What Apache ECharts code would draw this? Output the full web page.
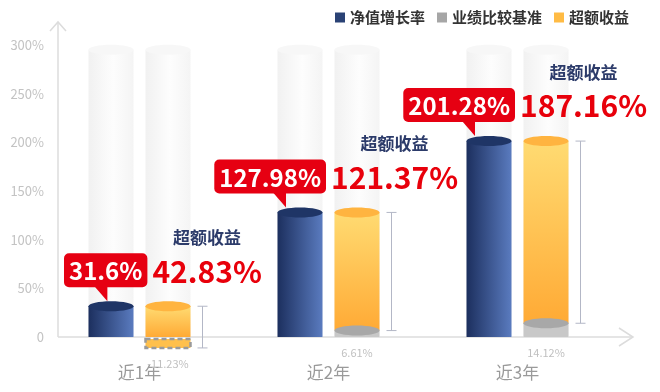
<!DOCTYPE html>
<html>
<head>
<meta charset="utf-8">
<script src="https://cdn.jsdelivr.net/npm/echarts@6/dist/echarts.min.js"></script>
<style>html,body{margin:0;padding:0;background:#fff;}#c{width:660px;height:392px;}</style>
</head>
<body>
<div id="c"></div>
<script>
// ---- data ----
const categories = ['近1年', '近2年', '近3年'];
const netGrowth = [31.6, 127.98, 201.28];
const benchmark = [-11.23, 6.61, 14.12];
const excess = [42.83, 121.37, 187.16];
const seriesNames = ['净值增长率', '业绩比较基准', '超额收益'];
const excessTitle = '超额收益';
const yMin = 0, yMax = 300, yStep = 50;
const ghostTop = 295;

// ---- style ----
const FONT = '"Noto Sans CJK SC", "Noto Sans", sans-serif';
const OFF = 28.5, HW = 22.5, RY = 5;
const measureCtx = document.createElement('canvas').getContext('2d');
function measure(t, size) { measureCtx.font = 'bold ' + size + 'px ' + FONT; return measureCtx.measureText(t).width; }
const G = echarts.graphic;

function calloutGeom(api, i, net) {
  const cx = api.coord([i, 0])[0];
  const yTop = api.coord([i, net])[1];
  const navX = cx - OFF;
  const text = net + '%';
  const boxW = measure(text, 24) + 10;
  const boxH = 34;
  let boxRight = navX + 26;
  let boxLeft = boxRight - boxW;
  if (boxLeft < 64) { boxLeft = 64; boxRight = boxLeft + boxW; }
  const boxBottom = yTop - 19;
  const boxTop = boxBottom - boxH;
  return { cx, yTop, navX, text, boxW, boxH, boxLeft, boxRight, boxBottom, boxTop };
}

function renderGhost(params, api) {
  const i = api.value(0);
  const p0 = api.coord([i, 0]);
  const yT = api.coord([i, api.value(1)])[1];
  const children = [];
  [-OFF, OFF].forEach(function (s) {
    const x = p0[0] + s;
    children.push({ type: 'rect', shape: { x: x - HW, y: yT, width: HW * 2, height: p0[1] - yT },
      style: { fill: new G.LinearGradient(0, 0, 1, 0, [
        { offset: 0, color: '#f1f1f1' }, { offset: 0.55, color: '#fdfdfd' }, { offset: 1, color: '#f4f4f4' }]) } });
    children.push({ type: 'ellipse', shape: { cx: x, cy: yT, rx: HW, ry: RY },
      style: { fill: '#f7f7f7' } });
  });
  return { type: 'group', children };
}

function renderNet(params, api) {
  const i = api.value(0);
  const net = api.value(1);
  const g = calloutGeom(api, i, net);
  const y0 = api.coord([i, 0])[1];
  const x = g.navX;
  const tipX = g.boxRight - 40;
  return { type: 'group', children: [
    { type: 'rect', shape: { x: x - HW, y: g.yTop, width: HW * 2, height: y0 - g.yTop },
      style: { fill: new G.LinearGradient(0, 0, 1, 0, [
        { offset: 0, color: '#1c2f5e' }, { offset: 1, color: '#5a7bbf' }]) } },
    { type: 'ellipse', shape: { cx: x, cy: g.yTop, rx: HW, ry: RY }, style: { fill: '#1f3566' } },
    { type: 'polygon', shape: { points: [[tipX - 13, g.boxBottom - 1], [tipX, g.boxBottom - 1], [tipX, g.yTop - 5]] },
      style: { fill: '#e60012' }, z2: 20 },
    { type: 'rect', shape: { x: g.boxLeft, y: g.boxTop, width: g.boxW, height: g.boxH, r: 5 },
      style: { fill: '#e60012' }, z2: 20 },
    { type: 'text', style: { text: g.text, x: g.boxLeft + g.boxW / 2, y: g.boxTop + g.boxH / 2 + 1,
      align: 'center', verticalAlign: 'middle', fill: '#fff', font: 'bold 24px ' + FONT }, z2: 21 }
  ] };
}

function renderExcess(params, api) {
  const i = api.value(0);
  const net = api.value(1);
  const b = api.value(2);
  const ex = api.value(3);
  const g = calloutGeom(api, i, net);
  const p0 = api.coord([i, 0]);
  const x = p0[0] + OFF;
  const yBase = api.coord([i, Math.max(b, 0)])[1];
  const yB = api.coord([i, b])[1];
  const yT = g.yTop;
  const bx = x + HW + 12;
  const redText = ex + '%';
  const redW = measure(redText, 30);
  const redLeft = g.boxRight + 5;
  const midY = g.boxTop + g.boxH / 2;
  return { type: 'group', children: [
    { type: 'rect', shape: { x: x - HW, y: yT, width: HW * 2, height: yBase - yT },
      style: { fill: new G.LinearGradient(0, 0, 0, 1, [
        { offset: 0, color: '#ffdb72' }, { offset: 1, color: '#ffaa35' }]) } },
    { type: 'ellipse', shape: { cx: x, cy: yT, rx: HW, ry: RY }, style: { fill: '#ffb440' } },
    { type: 'line', shape: { x1: bx, y1: yT, x2: bx, y2: yB }, style: { stroke: '#b3b7c6', lineWidth: 1 } },
    { type: 'line', shape: { x1: bx - 5, y1: yT, x2: bx + 5, y2: yT }, style: { stroke: '#b3b7c6', lineWidth: 1 } },
    { type: 'line', shape: { x1: bx - 5, y1: yB, x2: bx + 5, y2: yB }, style: { stroke: '#b3b7c6', lineWidth: 1 } },
    { type: 'text', style: { text: redText, x: redLeft, y: midY + 1, align: 'left', verticalAlign: 'middle',
      fill: '#e8000b', font: 'bold 30px ' + FONT }, z2: 21 },
    { type: 'text', style: { text: excessTitle, x: redLeft + redW / 2, y: midY - 33, align: 'center', verticalAlign: 'middle',
      fill: '#2c3b6a', font: 'bold 17px ' + FONT }, z2: 21 }
  ] };
}

function renderBench(params, api) {
  const i = api.value(0);
  const b = api.value(1);
  const p0 = api.coord([i, 0]);
  const x = p0[0] + OFF;
  const yB = api.coord([i, b])[1];
  const children = [];
  if (b >= 0) {
    children.push({ type: 'rect', shape: { x: x - HW, y: yB, width: HW * 2, height: p0[1] - yB }, style: { fill: '#c8c8c8' } });
    children.push({ type: 'ellipse', shape: { cx: x, cy: yB, rx: HW, ry: RY }, style: { fill: '#a8a8a8' } });
  } else {
    children.push({ type: 'rect', shape: { x: x - HW, y: p0[1] + 2, width: HW * 2, height: yB - p0[1] - 2 },
      style: { fill: '#ffc04c', stroke: '#9a9a9a', lineWidth: 2.5, lineDash: [5, 3] } });
  }
  children.push({ type: 'text', style: { text: b + '%', x: x, y: Math.max(p0[1], yB) + 16, align: 'center', verticalAlign: 'middle',
    fill: '#c0c0c0', font: '11px ' + FONT } });
  return { type: 'group', children };
}

const chart = echarts.init(document.getElementById('c'), null, { renderer: 'canvas' });
chart.setOption({
  animation: false,
  backgroundColor: '#fff',
  grid: { left: 45, right: 48, top: 45, bottom: 55 },
  legend: {
    data: seriesNames, top: 5, right: 26, icon: 'rect', itemWidth: 10, itemHeight: 10, itemGap: 12,
    textStyle: { fontSize: 15, fontWeight: 'bold', color: '#333', fontFamily: FONT }
  },
  xAxis: {
    type: 'category', data: categories,
    axisLine: { show: false }, axisTick: { show: false },
    axisLabel: { color: '#9a9a9a', fontSize: 17, margin: 27, fontFamily: FONT }
  },
  yAxis: {
    type: 'value', min: yMin, max: yMax, interval: yStep,
    axisLine: { show: false }, axisTick: { show: false }, splitLine: { show: false },
    axisLabel: { color: '#c3c3c3', fontSize: 13, margin: 1, fontFamily: FONT,
      formatter: function (v) { return v === 0 ? '0' : v + '%'; } }
  },
  graphic: [
    { type: 'line', shape: { x1: 58, y1: 337, x2: 58, y2: 22 }, style: { stroke: '#dcdcdc', lineWidth: 1.5 }, z: 1 },
    { type: 'polyline', shape: { points: [[50, 31], [58, 22], [66, 31]] }, style: { stroke: '#dcdcdc', lineWidth: 1.5, fill: null }, z: 1 },
    { type: 'line', shape: { x1: 58, y1: 337, x2: 633, y2: 337 }, style: { stroke: '#dcdcdc', lineWidth: 1.5 }, z: 1 },
    { type: 'polyline', shape: { points: [[619, 328], [633, 337], [619, 346]] }, style: { stroke: '#dcdcdc', lineWidth: 1.5, fill: null }, z: 1 }
  ],
  series: [
    { type: 'custom', name: 'ghost', renderItem: renderGhost, z: 2, silent: true,
      data: categories.map(function (c, i) { return [i, ghostTop]; }) },
    { type: 'custom', name: seriesNames[0], renderItem: renderNet, z: 5, itemStyle: { color: '#2a4275' },
      data: categories.map(function (c, i) { return [i, netGrowth[i]]; }) },
    { type: 'custom', name: seriesNames[2], renderItem: renderExcess, z: 4, itemStyle: { color: '#ffbb44' },
      data: categories.map(function (c, i) { return [i, netGrowth[i], benchmark[i], excess[i]]; }) },
    { type: 'custom', name: seriesNames[1], renderItem: renderBench, z: 4, itemStyle: { color: '#a6a6a6' },
      data: categories.map(function (c, i) { return [i, benchmark[i]]; }) }
  ]
});
</script>
</body>
</html>
